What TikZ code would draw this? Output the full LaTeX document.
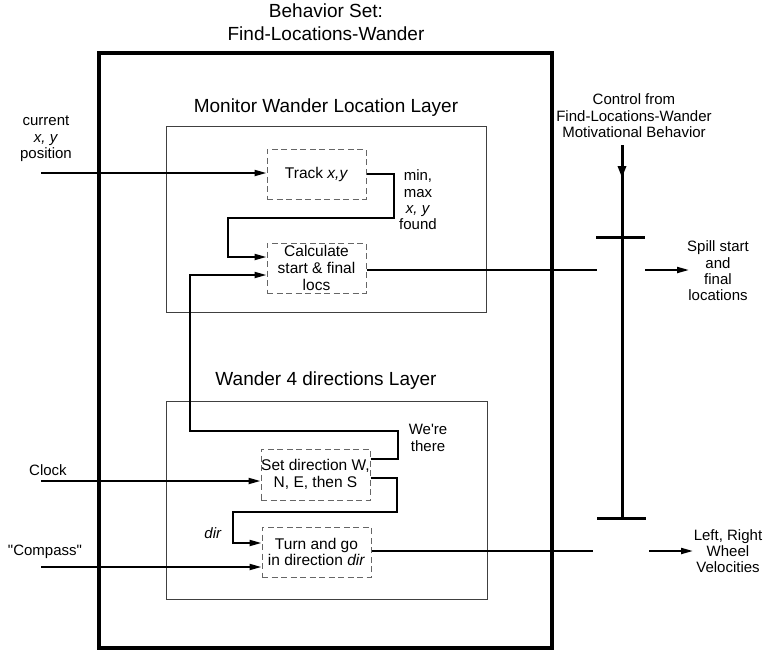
\documentclass[tikz,border=0pt]{standalone}
\usepackage{fontspec}
\setmainfont{Liberation Sans}
\usetikzlibrary{arrows.meta}
\tikzset{
  conn/.style={line width=2pt, -{Triangle[length=12pt,width=6pt]}},
  plain/.style={line width=2pt},
  dbox/.style={draw=black!60, dash pattern=on 6pt off 3.5pt, line width=1pt, align=center, font=\fontsize{15.5}{16.7}\selectfont, inner sep=0pt},
  layer/.style={draw=black!75, line width=1pt},
  lbl/.style={align=center, font=\fontsize{15}{16.3}\selectfont},
  ttl/.style={align=center, font=\fontsize{19}{23}\selectfont},
  bar/.style={line width=3pt},
}
\begin{document}
\begin{tikzpicture}[x=1pt,y=-1pt]
\useasboundingbox (0,0) rectangle (764,651);
% titles and frames
\node[ttl] (title) at (326,22) {Behavior Set:\\Find-Locations-Wander};
\node[draw, line width=3.5pt, minimum width=453pt, minimum height=595pt] (frame) at (325.5,350.5) {};
\node[layer, minimum width=320pt, minimum height=186pt] (mon) at (326,219) {};
\node[layer, minimum width=321pt, minimum height=198pt] (wan) at (326.5,500) {};
\node[ttl] (monttl) at (326,108) {Monitor Wander Location Layer};
\node[ttl] (wanttl) at (326,381) {Wander 4 directions Layer};
% boxes
\node[dbox, minimum width=99pt, minimum height=50pt] (track) at (316.5,174) {Track \textit{x,y}};
\node[dbox, minimum width=99pt, minimum height=50pt] (calc) at (316.5,268) {Calculate\\start \& final\\locs};
\node[dbox, minimum width=109pt, minimum height=51pt] (setdir) at (315.5,474.5) {Set direction W,\\N, E, then S};
\node[dbox, minimum width=109pt, minimum height=50pt] (turn) at (316.5,552) {Turn and go\\in direction \textit{dir}};
% labels
\node[lbl] (cur) at (46,139) {current\\\textit{x, y}\\position};
\node[lbl] (clk) at (48,470) {Clock};
\node[lbl] (cmp) at (45,552) {\textquotedbl Compass\textquotedbl};
\node[lbl] (minmax) at (418,200) {min,\\max\\\textit{x, y}\\found};
\node[lbl] (there) at (428,438) {We\textquotesingle re\\there};
\node[lbl] (dirl) at (213,533) {\textit{dir}};
\node[lbl] (spill) at (718,271) {Spill start\\and\\final\\locations};
\node[lbl] (vel) at (728,551) {Left, Right\\Wheel\\Velocities};
\node[lbl, font=\fontsize{15}{16.5}\selectfont] (ctrl) at (634,116) {Control from\\Find-Locations-Wander\\Motivational Behavior};
% free ends
\coordinate (in1) at (41,173);
\coordinate (in2) at (41,481);
\coordinate (in3) at (41,567);
\coordinate (o1a) at (597,270);
\coordinate (o1b) at (645,270);
\coordinate (o1c) at (689,270);
\coordinate (o2a) at (593,551);
\coordinate (o2b) at (649,551);
\coordinate (o2c) at (693,551);
\coordinate (ctop) at (622,145);
\coordinate (ctip) at (622,178);
\coordinate (cbot) at (622,518);
% inputs
\draw[conn] (in1) -- (track.west |- in1);
\draw[conn] (in2) -- (setdir.west |- in2);
\draw[conn] (in3) -- (turn.west |- in3);
% internal
\draw[conn] (track.east) -- (394,174) -- (394,218) -- (228,218) -- (228,257) -- (calc.west |- 0,257);
\draw[conn] (setdir.east |- 0,459) -- (398,459) -- (398,431) -- (190,431) -- (190,275) -- (calc.west |- 0,275);
\draw[conn] (setdir.east |- 0,478) -- (397,478) -- (397,512) -- (233,512) -- (233,543) -- (turn.west |- 0,543);
% outputs
\draw[plain] (calc.east |- o1a) -- (o1a);
\draw[conn] (o1b) -- (o1c);
\draw[plain] (turn.east |- o2a) -- (o2a);
\draw[conn] (o2b) -- (o2c);
% control
\draw[bar] (ctop) -- (cbot);
\draw[line width=3pt, -{Triangle[length=12pt,width=8pt]}] (ctop) -- (ctip);
\draw[bar] (596,237) -- (645,237);
\draw[bar] (597,518) -- (646,518);
\end{tikzpicture}
\end{document}
